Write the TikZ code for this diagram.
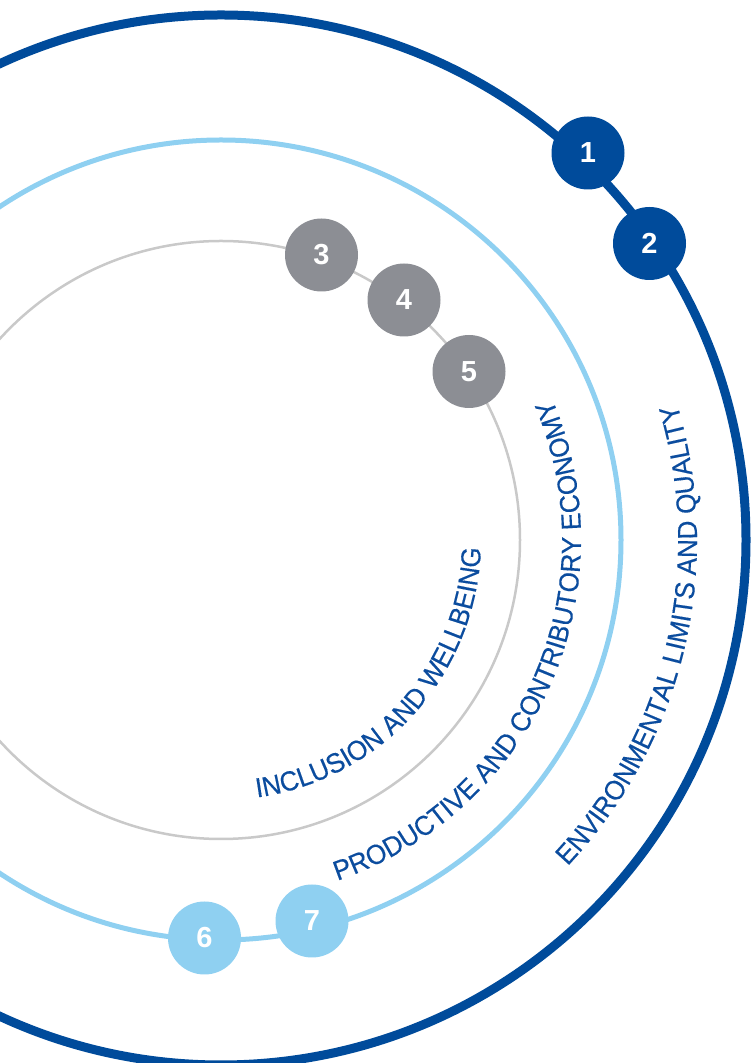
\documentclass[tikz,border=0pt]{standalone}
\usepackage{fontspec}
\setmainfont{Liberation Sans}
\newfontfamily\arcfont[FakeStretch=0.95,FakeBold=0.3]{Liberation Sans}
\usetikzlibrary{decorations.text,calc}
\definecolor{dblue}{HTML}{004B9B}
\definecolor{lblue}{HTML}{8FD0F1}
\definecolor{gbadge}{HTML}{8C8E94}
\definecolor{gline}{HTML}{C9C9C9}
\definecolor{tblue}{HTML}{0B4C9E}
\begin{document}
\begin{tikzpicture}[x=1pt,y=1pt,
  badge/.style={circle, minimum size=73pt, inner sep=0pt, text=white,
    font=\fontsize{29}{29}\selectfont\bfseries},
  ringtext/.style={decorate, decoration={text along path, text align=center,
    text={|\arcfont\fontsize{27.5}{30}\selectfont\color{tblue}|#1}}}]
\useasboundingbox (0,0) rectangle (751,1063);
\clip (0,0) rectangle (751,1063);
\coordinate (C) at (221,523);
% rings
\draw[dblue, line width=9pt] (C) circle[radius=525];
\draw[lblue, line width=5pt] (C) circle[radius=400];
\draw[gline, line width=2.5pt] (C) circle[radius=299];
% badges
\node[badge, fill=dblue] (b1) at (588,910) {1};
\node[badge, fill=dblue] (b2) at (649.5,819.5) {2};
\node[badge, fill=gbadge] (b3) at (321.5,808) {3};
\node[badge, fill=gbadge] (b4) at (404,763) {4};
\node[badge, fill=gbadge] (b5) at (469,691.5) {5};
\node[badge, fill=lblue] (b6) at (204.5,125) {6};
\node[badge, fill=lblue] (b7) at (312,142) {7};
% curved labels
\path[ringtext={INCLUSION AND WELLBEING}]
  ($(C)+(-111.9:260)$) arc[start angle=-111.9, end angle=28.1, radius=260];
\path[ringtext={PRODUCTIVE AND CONTRIBUTORY ECONOMY}]
  ($(C)+(-100:360)$) arc[start angle=-100, end angle=52, radius=360];
\path[ringtext={ENVIRONMENTAL LIMITS AND QUALITY}]
  ($(C)+(-83.3:476)$) arc[start angle=-83.3, end angle=56.7, radius=476];
\end{tikzpicture}
\end{document}
